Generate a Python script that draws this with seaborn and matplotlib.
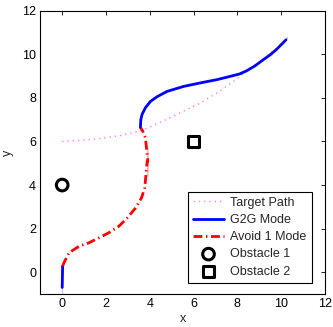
import numpy as np
import pandas as pd
import seaborn as sns
from matplotlib import pyplot as plt

# target path (dotted)
target_x = [0.0, 1.45, 2.66, 3.65, 4.41, 5.55, 6.31, 7.07, 7.82, 8.5, 9.19, 9.8, 10.4]
target_y = [6.0, 6.1, 6.27, 6.51, 6.85, 7.39, 7.77, 8.23, 8.76, 9.28, 9.8, 10.3, 10.87]

# G2G mode, first leg (straight up from start)
g2g1_x = [0.0, 0.0, 0.02]
g2g1_y = [-1.0, -0.4, 0.28]

# avoid obstacle 1 mode
avoid_x = [0.02, 0.08, 0.31, 0.77, 1.22, 1.68, 2.13, 2.59, 2.97, 3.35, 3.62, 3.77, 3.88, 3.91, 3.91, 3.88, 3.8, 3.68, 3.57]
avoid_y = [0.28, 0.43, 0.89, 1.19, 1.35, 1.58, 1.81, 2.11, 2.49, 2.95, 3.41, 3.87, 4.4, 4.86, 5.32, 5.78, 6.17, 6.47, 6.65]

# G2G mode, second leg
g2g2_x = [3.57, 3.59, 3.65, 3.8, 4.03, 4.34, 4.79, 5.55, 6.31, 7.07, 7.67, 8.1, 8.43, 8.8, 9.19, 9.5, 9.8, 10.22]
g2g2_y = [6.65, 7.0, 7.25, 7.55, 7.84, 8.06, 8.3, 8.53, 8.69, 8.84, 8.99, 9.1, 9.25, 9.47, 9.76, 9.98, 10.24, 10.67]

obs1 = (0.0, 4.0)
obs2 = (6.0, 6.0)

sns.set_style('white')
plt.rcParams['font.family'] = ['Liberation Sans', 'DejaVu Sans']

fig = plt.figure(figsize=(3.33, 3.27), dpi=100)
ax = fig.add_axes([0.121, 0.101, 0.855, 0.866])

sns.lineplot(x=target_x, y=target_y, sort=False, color='#ff80ff', lw=1.0, label='Target Path', ax=ax)
ax.lines[-1].set_dashes((1, 2.8))
sns.lineplot(x=g2g1_x, y=g2g1_y, sort=False, color='#0000ff', lw=2.0, label='G2G Mode', ax=ax)
sns.lineplot(x=avoid_x, y=avoid_y, sort=False, color='#ff0000', lw=2.0, label='Avoid 1 Mode', ax=ax)
ax.lines[-1].set_dashes((3.2, 1.3, 0.5, 1.3))
sns.lineplot(x=g2g2_x, y=g2g2_y, sort=False, color='#0000ff', lw=2.0, ax=ax)
sns.scatterplot(x=[obs1[0]], y=[obs1[1]], marker='o', s=70, facecolor='none', edgecolor='k', linewidth=2.2, label='Obstacle 1', ax=ax, zorder=5)
sns.scatterplot(x=[obs2[0]], y=[obs2[1]], marker='s', s=60, facecolor='none', edgecolor='k', linewidth=2.2, label='Obstacle 2', ax=ax, zorder=5)

ax.set(xlim=(-1, 12), ylim=(-1, 12), xticks=np.arange(0, 13, 2), yticks=np.arange(0, 13, 2))
ax.set_xlabel('x', fontsize=9, labelpad=2)
ax.set_ylabel('y', fontsize=9, labelpad=6)
ax.tick_params(direction='in', length=3, width=0.6, top=True, right=True, labelsize=9, pad=3, colors='k')
for s in ax.spines.values():
    s.set_color('k')
    s.set_linewidth(0.8)

leg = ax.legend(loc='lower right', bbox_to_anchor=(0.953, 0.04), fontsize=9, fancybox=False, framealpha=1,
                edgecolor='k', borderaxespad=0, handlelength=2.5, handletextpad=0.5, labelspacing=0.42,
                borderpad=0.4)
leg.get_frame().set_linewidth(0.8)

fig.savefig('out.png', dpi=100)
